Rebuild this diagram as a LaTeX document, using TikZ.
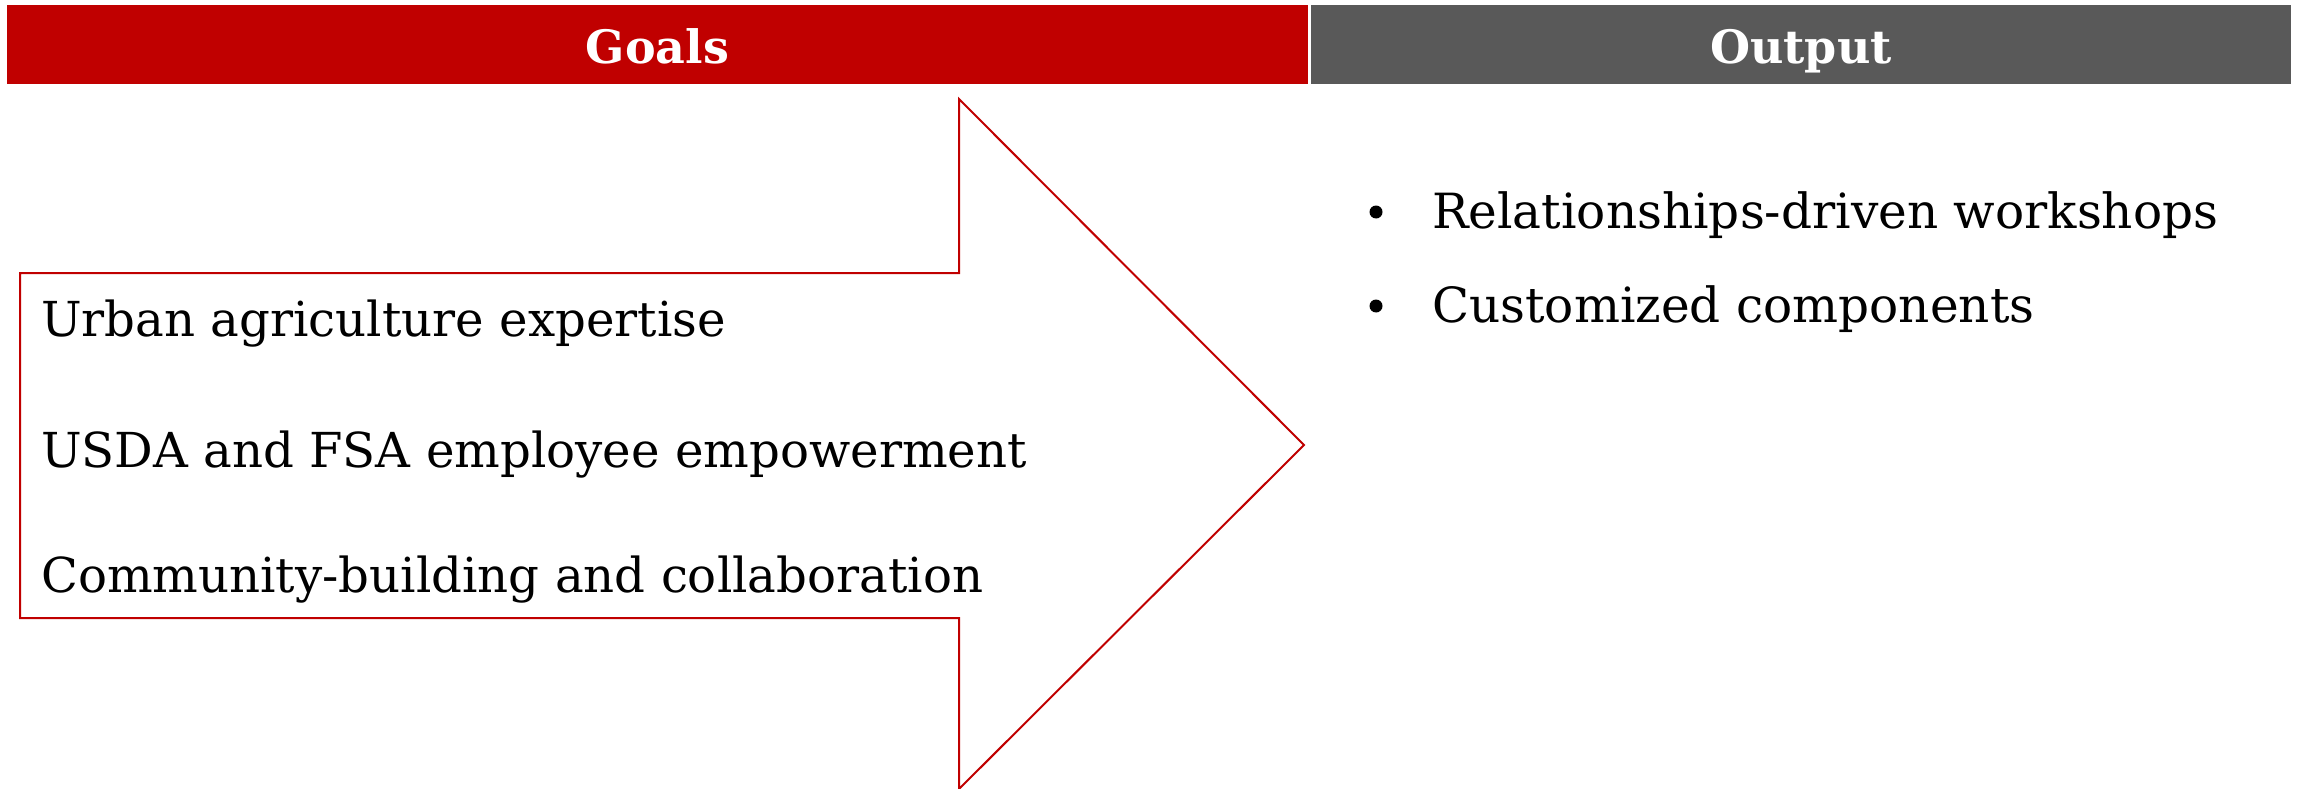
\documentclass[tikz,border=0pt]{standalone}
\usepackage{fontspec}
\setmainfont{DejaVu Serif}
\definecolor{goalred}{HTML}{C00000}
\definecolor{outgray}{HTML}{595959}
\begin{document}
\begin{tikzpicture}[x=1pt,y=-1pt,
  headbar/.style={fill=#1,draw=none},
  headtxt/.style={text=white,font=\fontsize{46}{56}\selectfont\bfseries,inner sep=0pt,anchor=base},
  bodytxt/.style={text=black,font=\fontsize{48.2}{60}\selectfont,inner sep=0pt,anchor=base west},
  outtxt/.style={text=black,font=\fontsize{48.5}{58}\selectfont,inner sep=0pt,anchor=base west},
  bul/.style={circle,fill=black,draw=none,inner sep=0pt,minimum size=13pt}]
\useasboundingbox (0,0) rectangle (2298,789);
\fill[white] (0,0) rectangle (2298,789);
% header bars
\fill[headbar=goalred] (7,5) rectangle (1308,84);
\fill[headbar=outgray] (1311,5) rectangle (2291,84);
\node[headtxt] (goals) at (657.5,64) {Goals};
\node[headtxt] (output) at (1801,64) {Output};
% arrow
\draw[goalred,line width=2pt,line join=miter]
  (20,273) -- (959,273) -- (959,99) -- (1304,445) -- (959,789) -- (959,618) -- (20,618) -- cycle;
% goals text
\node[bodytxt] (g1) at (41,336) {Urban agriculture expertise};
\node[bodytxt] (g2) at (41,467) {USDA and FSA employee empowerment};
\node[bodytxt] (g3) at (41,592) {Community-building and collaboration};
% output bullets
\node[bul] (b1) at (1376,212) {};
\node[outtxt] (o1) at (1432,228) {Relationships-driven workshops};
\node[bul] (b2) at (1376,306) {};
\node[outtxt] (o2) at (1432,322) {Customized components};
\end{tikzpicture}
\end{document}
